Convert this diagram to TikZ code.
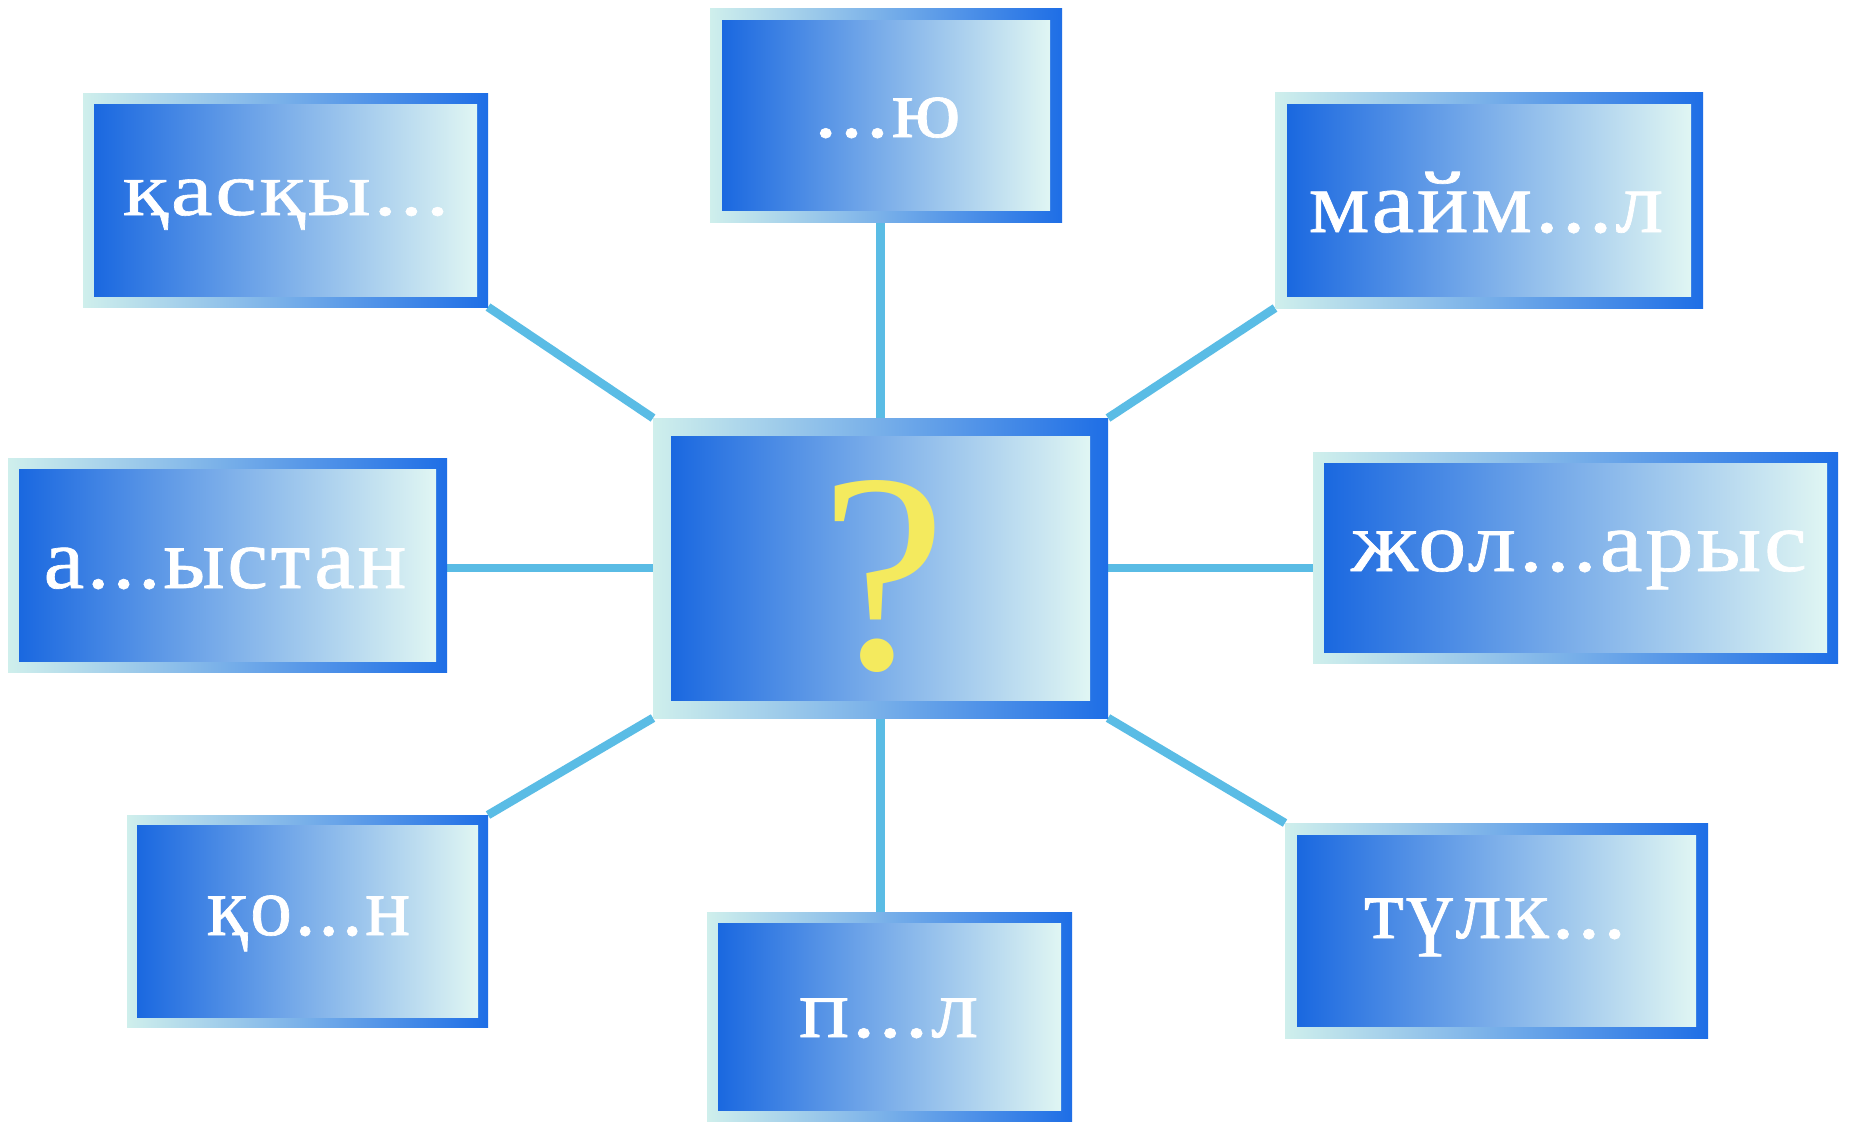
\documentclass[tikz,border=0pt]{standalone}
\usepackage{fontspec}
\setmainfont{Liberation Serif}
\newfontfamily\kfont[LetterSpace=3,FakeBold=0.8]{Liberation Serif}
\newfontfamily\qfont{Liberation Serif}
\usetikzlibrary{calc,backgrounds}
\pgfdeclarelayer{bottom}
\pgfsetlayers{bottom,background,main}
\definecolor{frameL}{HTML}{CFEFEC}
\definecolor{frameR}{HTML}{1E6EE6}
\definecolor{innerL}{HTML}{1A68E0}
\definecolor{innerM}{HTML}{66A9EE}
\definecolor{innerR}{HTML}{E0F6F3}
\definecolor{conn}{HTML}{5ABCE5}
\definecolor{qyellow}{HTML}{F4EA5E}
\tikzset{
  boxframe/.style={rectangle, inner sep=0pt, outer sep=0pt, left color=frameL, right color=frameR},
  boxfill/.style={left color=innerL, middle color=innerM, right color=innerR},
  word/.style={anchor=base, text=white, inner sep=0pt, transform shape},
  link/.style={draw=conn, line width=4.3pt},
}
\newcommand\wordbox[6]{%
  \node[boxframe, minimum width={(#4-#2)*0.5pt}, minimum height={(#5-#3)*0.5pt}] (#1) at ({(#2+#4)/2},{(#3+#5)/2}) {};
  \shade[boxfill] ($(#1.north west)+(#6,#6)$) rectangle ($(#1.south east)+(-#6,-#6)$);
}
\newcommand\wsize[1]{\kfont\fontsize{#1}{#1}\selectfont}
\begin{document}
\begin{tikzpicture}[x=0.5pt,y=-0.5pt]
\begin{pgfonlayer}{bottom}
\fill[white] (0,0) rectangle (1850,1121);
\end{pgfonlayer}
\useasboundingbox (0,0) rectangle (1850,1121);
% boxes
\wordbox{qas}{83}{93}{488}{307}{11}
\wordbox{yu}{710}{8}{1062}{222}{12}
\wordbox{mai}{1275}{92}{1703}{308}{12}
\wordbox{aly}{8}{458}{447}{672}{11}
\wordbox{c}{653}{418}{1108}{718}{18}
\wordbox{jol}{1313}{452}{1838}{663}{11}
\wordbox{kon}{127}{815}{488}{1027}{10}
\wordbox{pil}{707}{912}{1072}{1121}{11}
\wordbox{tul}{1285}{823}{1708}{1038}{12}
% texts
\node[word, xscale=1.23, font=\wsize{38pt}] (tqas) at (286,215) {қасқы...};
\node[word, xscale=1.1, font=\wsize{42pt}] (tyu) at (887.5,137) {...ю};
\node[word, xscale=1.09, font=\wsize{44pt}] (tmai) at (1486,232) {майм...л};
\node[word, xscale=1.06, font=\wsize{43pt}] (taly) at (225,588) {а...ыстан};
\node[word, xscale=1.12, font=\wsize{43pt}] (tjol) at (1579,571) {жол...арыс};
\node[word, xscale=1.0, font=\wsize{42pt}] (tkon) at (308.5,935) {қо...н};
\node[word, xscale=1.12, font=\wsize{42pt}] (tpil) at (888.5,1037) {п...л};
\node[word, xscale=1.07, font=\wsize{43pt}] (ttul) at (1495,938) {түлк...};
\node[anchor=base, inner sep=0pt, text=qyellow, font=\qfont\fontsize{142pt}{142pt}\selectfont] (q) at (884,668) {?};
% connectors
\begin{pgfonlayer}{background}
\draw[link] (qas.south east) -- (c.north west);
\draw[link] (c.north) -- (c.north |- yu.south);
\draw[link] (mai.south west) -- (c.north east);
\draw[link] (c.west) -- (c.west -| aly.east);
\draw[link] (c.east) -- (c.east -| jol.west);
\draw[link] (kon.north east) -- (c.south west);
\draw[link] (c.south) -- (c.south |- pil.north);
\draw[link] (tul.north west) -- (c.south east);
\end{pgfonlayer}
\end{tikzpicture}
\end{document}
